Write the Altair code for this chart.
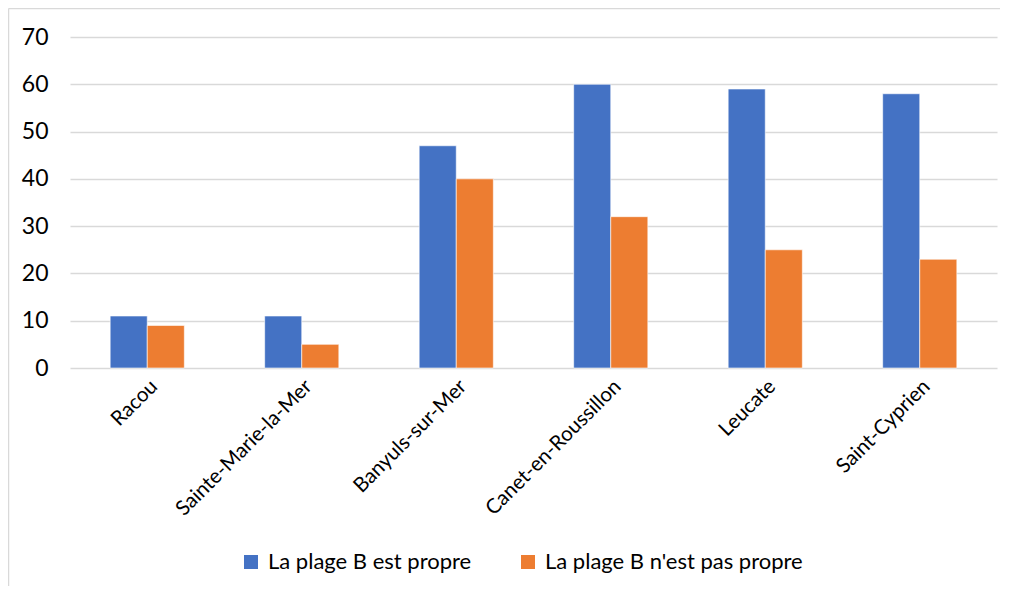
import altair as alt
import pandas as pd

categories = ["Racou", "Sainte-Marie-la-Mer", "Banyuls-sur-Mer", "Canet-en-Roussillon", "Leucate", "Saint-Cyprien"]
series = ["La plage B est propre", "La plage B n'est pas propre"]
propre = [11, 11, 47, 60, 59, 58]
pas_propre = [9, 5, 40, 32, 25, 23]
colors = ["#4472C4", "#ED7D31"]

rows = []
for c, a, b in zip(categories, propre, pas_propre):
    rows.append({"cat": c, "serie": series[0], "val": a})
    rows.append({"cat": c, "serie": series[1], "val": b})
df = pd.DataFrame(rows)

W, H = 927, 331
FONT = "Lato"

bars = alt.Chart(df).mark_bar(stroke="white", strokeWidth=0.6).encode(
    x=alt.X("cat:N", sort=categories, title=None,
            scale=alt.Scale(paddingInner=0.52, paddingOuter=0.26),
            axis=alt.Axis(labelAngle=-45, labelFontSize=20.5, labelFont=FONT, labelColor="#000000",
                          ticks=False, domain=False, labelPadding=8, labelLimit=300)),
    xOffset=alt.XOffset("serie:N", sort=series),
    y=alt.Y("val:Q", title=None,
            scale=alt.Scale(domain=[0, 70]),
            axis=alt.Axis(values=[0, 10, 20, 30, 40, 50, 60, 70], labelFontSize=23, labelFont=FONT,
                          labelColor="#000000", ticks=False, domain=False, labelPadding=22,
                          gridColor="#d9d9d9", gridWidth=1.5)),
    color=alt.Color("serie:N", sort=series, title=None,
                    scale=alt.Scale(domain=series, range=colors),
                    legend=alt.Legend(orient="none", legendX=170, legendY=514, direction="horizontal",
                                      symbolType="square", symbolSize=196, symbolStrokeWidth=0,
                                      labelFontSize=22, labelFont=FONT, labelColor="#000000",
                                      columnPadding=45, labelOffset=6, labelLimit=400)),
)

top_line = alt.Chart(pd.DataFrame({"a": [0]})).mark_rule(color="#d9d9d9", strokeWidth=1.5).encode(
    x=alt.value(-61.5), x2=alt.value(W + 3), y=alt.value(-28.5)
)
left_line = alt.Chart(pd.DataFrame({"a": [0]})).mark_rule(color="#d9d9d9", strokeWidth=1.5).encode(
    x=alt.value(-61.5), y=alt.value(-28.5), y2=alt.value(H + 218)
)

chart = alt.layer(bars, top_line, left_line).properties(
    width=W, height=H,
    autosize=alt.AutoSizeParams(type="none"),
    padding={"left": 62, "top": 29, "right": 7, "bottom": 222},
).configure_view(stroke=None)

chart.save("out.html", embed_options={"renderer": "svg", "actions": False})
